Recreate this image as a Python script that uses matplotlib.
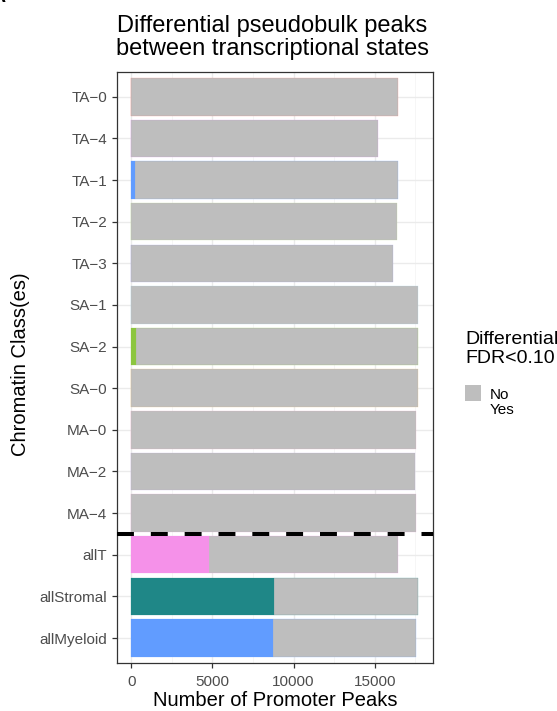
import matplotlib
matplotlib.use("Agg")
import matplotlib.pyplot as plt
import matplotlib.patches as mpatches
import numpy as np

plt.rcParams["font.family"] = ["Liberation Sans", "DejaVu Sans"]

# Chromatin classes, top to bottom
classes = ["TA-0", "TA-4", "TA-1", "TA-2", "TA-3", "SA-1", "SA-2", "SA-0",
           "MA-0", "MA-2", "MA-4", "allT", "allStromal", "allMyeloid"]
# Promoter peaks with FDR<0.10 (Yes) and the rest (No)
peaks_yes = [10, 5, 250, 10, 5, 5, 260, 10, 5, 5, 5, 4800, 8820, 8740]
peaks_total = [16420, 15200, 16420, 16400, 16150, 17700, 17660, 17700,
               17560, 17480, 17520, 16420, 17690, 17570]
peaks_no = [t - y for t, y in zip(peaks_total, peaks_yes)]
class_colors = ["#F8766D", "#D98CE8", "#619CFF", "#B8D88A", "#9F9BE8",
                "#A8D4E8", "#8CC63F", "#E5B86A", "#EBA5C5", "#B9A3DA",
                "#E3A9D3", "#F591E9", "#1F8787", "#619CFF"]
x_ticks = [0, 5000, 10000, 15000]

W, H = 557, 711
fig = plt.figure(figsize=(W / 100, H / 100), dpi=100)
ax = fig.add_axes([0.210, 0.0675, 0.567, 0.8315])

n = len(classes)
ypos = np.arange(n)[::-1] + 1  # first class at the top

ax.barh(ypos, peaks_yes, height=0.9, color=class_colors,
        edgecolor=class_colors, linewidth=0.15, zorder=3)
ax.barh(ypos, peaks_no, left=peaks_yes, height=0.9, color="#BEBEBE",
        edgecolor=class_colors, linewidth=0.15, zorder=3)

# separator between single classes and aggregated groups
ax.axhline(3.5, color="black", lw=2.9, ls=(0, (4.2, 4.2)), zorder=4, clip_on=False)

xmax = max(peaks_total)
ax.set_xlim(-xmax * 0.05, xmax * 1.05)
ax.set_ylim(0.4, n + 0.6)
ax.set_yticks(ypos)
ax.set_yticklabels([c.replace("-", "\u2212") for c in classes])
ax.set_xticks(x_ticks)
ax.set_xticks([2500, 7500, 12500, 17500], minor=True)

ax.grid(True, which="major", color="#EBEBEB", lw=1.0, zorder=0)
ax.grid(True, which="minor", axis="x", color="#F5F5F5", lw=0.6, zorder=0)
ax.set_axisbelow(True)
for s in ax.spines.values():
    s.set_color("#333333")
    s.set_linewidth(0.9)
ax.tick_params(which="major", colors="#333333", labelcolor="#4D4D4D",
               labelsize=11, length=3.5, width=0.9)
ax.tick_params(which="minor", length=0)
ax.tick_params(axis="x", pad=5)

# axis titles
fig.text(0.5 * (0.210 + 0.777), 1 - 706 / H, "Number of Promoter Peaks",
         ha="center", va="baseline", fontsize=14.5)
fig.text(21 / W, 1 - 364 / H, "Chromatin Class(es)", ha="center", va="center",
         rotation=90, fontsize=14.5)

# plot title
fig.text(272 / W, 1 - 32 / H, "Differential pseudobulk peaks",
         ha="center", va="baseline", fontsize=17)
fig.text(272 / W, 1 - 55 / H, "between transcriptional states",
         ha="center", va="baseline", fontsize=17)

# legend
fig.text(465 / W, 1 - 344 / H, "Differential", ha="left", va="baseline", fontsize=14)
fig.text(465 / W, 1 - 363 / H, "FDR<0.10", ha="left", va="baseline", fontsize=14)
fig.patches.append(mpatches.Rectangle((465 / W, 1 - 401 / H), 16 / W, 16 / H,
                                       transform=fig.transFigure,
                                       facecolor="#BEBEBE", edgecolor="none"))
fig.text(490 / W, 1 - 399 / H, "No", ha="left", va="baseline", fontsize=11)
fig.text(490 / W, 1 - 414 / H, "Yes", ha="left", va="baseline", fontsize=11)

# panel letter
fig.text(-8 / W, 1 - 2 / H, "A", ha="left", va="baseline", fontsize=14,
         fontweight="bold")

fig.savefig("out.png", dpi=100)
